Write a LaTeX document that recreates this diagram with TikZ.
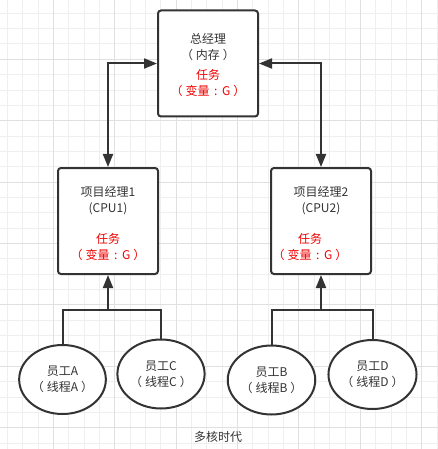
\documentclass[tikz,border=0pt]{standalone}
\usepackage{fontspec}
\setmainfont{Noto Sans CJK SC}
\usetikzlibrary{shapes.geometric,arrows.meta}
\definecolor{ink}{HTML}{333333}
\definecolor{redtxt}{HTML}{F00000}
\definecolor{gminor}{HTML}{EFEFEF}
\definecolor{gmajor}{HTML}{E0E0E0}
\newcommand\dfont{\fontsize{12}{16}\selectfont}
\newcommand\myl{（\kern3pt}
\newcommand\myr{\kern3pt）}
\newcommand\mycolon{\kern4.5pt:\kern4.5pt}
\begin{document}
\begin{tikzpicture}[x=1pt,y=-1pt,
  box/.style={draw=ink,line width=2pt,rounded corners=3pt,fill=white,minimum width=100pt,minimum height=106pt,inner sep=0pt},
  worker/.style={ellipse,draw=ink,line width=2pt,fill=white,minimum width=83pt,minimum height=69pt,inner sep=0pt,align=center,font=\dfont,text=ink},
  blk/.style={align=center,text=ink,font=\dfont,inner sep=0pt},
  redtext/.style={align=center,text=redtxt,font=\dfont,inner sep=0pt},
  link/.style={draw=ink,line width=2pt},
  tip/.style={-{Triangle[length=13pt,width=10pt]}},
  dtip/.style={{Triangle[length=13pt,width=10pt]}-{Triangle[length=13pt,width=10pt]}}
]
\useasboundingbox (0,0) rectangle (438,449);
\fill[white] (0,0) rectangle (438,449);
% grid
\foreach \i in {0,...,28} {
  \draw[gminor,line width=1pt] ({7.3+15.35*\i},0) -- ({7.3+15.35*\i},449);
  \draw[gminor,line width=1pt] (0,{13.3+15.35*\i}) -- (438,{13.3+15.35*\i});
}
\foreach \j in {0,...,6} {
  \draw[gmajor,line width=1pt] ({53.35+61.4*\j},0) -- ({53.35+61.4*\j},449);
  \draw[gmajor,line width=1pt] (0,{59.35+61.4*\j}) -- (438,{59.35+61.4*\j});
}
% boxes
\node[box] (top) at (208,63.5) {};
\node[box] (L) at (108,221) {};
\node[box] (R) at (321,221) {};
\node[blk] (topb) at (208,47) {总经理\\\myl 内存\myr};
\node[redtext] (topr) at (208,83.5) {任务\\\myl 变量\mycolon G\myr};
\node[blk] (Lb) at (108,201) {项目经理1\\(CPU1)};
\node[redtext] (Lr) at (108,247) {任务\\\myl 变量\mycolon G\myr};
\node[blk] (Rb) at (321,201) {项目经理2\\(CPU2)};
\node[redtext] (Rr) at (310,247) {任务\\\myl 变量\mycolon G\myr};
% workers
\node[worker] (A) at (62.5,379.5) {员工A\\\myl 线程A\myr};
\node[worker] (C) at (161,374) {员工C\\\myl 线程C\myr};
\node[worker] (B) at (271.5,380) {员工B\\\myl 线程B\myr};
\node[worker] (D) at (372.5,374.5) {员工D\\\myl 线程D\myr};
\node[blk] (cap) at (218,437) {多核时代};
% connectors
\draw[link,dtip] (top.west) -| (L.north);
\draw[link,dtip] (top.east) -| (R.north);
\coordinate (jL) at (108,310);
\coordinate (jR) at (321,310);
\draw[link] (A.north) |- (jL) -| (C.north);
\draw[link,tip] (jL) -- (L.south);
\draw[link] (B.north) |- (jR) -| (D.north);
\draw[link,tip] (jR) -- (R.south);
\end{tikzpicture}
\end{document}
